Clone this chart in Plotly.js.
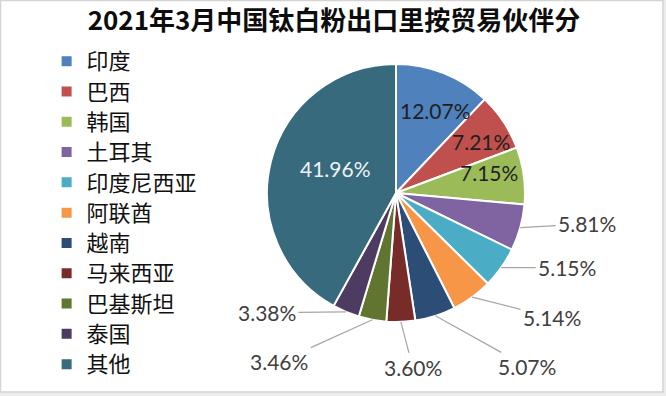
<!DOCTYPE html>
<html>
<head>
<meta charset="utf-8">
<script src="https://cdn.plot.ly/plotly-3.0.1.min.js"></script>
<style>html,body{margin:0;padding:0;background:#fff;}#chart{width:666px;height:396px;}</style>
</head>
<body>
<div id="chart"></div>
<script>
// ---- data ----
const categories = ['印度','巴西','韩国','土耳其','印度尼西亚','阿联酋','越南','马来西亚','巴基斯坦','泰国','其他'];
const shares = [12.07, 7.21, 7.15, 5.81, 5.15, 5.14, 5.07, 3.60, 3.46, 3.38, 41.96];
const titleText = '2021年3月中国钛白粉出口里按贸易伙伴分';

// ---- style ----
const sliceColors = ['#4F81BD','#C0504D','#9BBB59','#8064A2','#4BACC6','#F79646','#2C4D75','#772C2A','#5F7530','#4D3B62','#376A7C'];
const labelInside = [true,true,true,false,false,false,false,false,false,false,true];
const labelOffsets = [[-8,37],[-22,20],[-35,-3],[67,-4],[66,0],[80,20],[92,51],[12,46],[-93,42],[-79,1],[64,8]];
const labelColors = ['#1f1f1f','#1f1f1f','#1f1f1f','#404040','#404040','#404040','#404040','#404040','#404040','#404040','#eef3f6'];

const W = 666, H = 396;
const domX = [267/W, 525/W];
const domY = [(H-322)/H, (H-64)/H];

const cx = (domX[0]+domX[1])/2*W;
const cy = H - (domY[0]+domY[1])/2*H;
const r = Math.min((domX[1]-domX[0])*W, (domY[1]-domY[0])*H)/2;

const total = shares.reduce((a,b)=>a+b,0);
let cum = 0;
const annotations = [];
shares.forEach((v,i)=>{
  const mid = (cum + v/2)/total*2*Math.PI; cum += v;
  const px = cx + r*Math.sin(mid);
  const py = cy - r*Math.cos(mid);
  const a = {
    x: px/W, y: 1 - py/H, xref:'paper', yref:'paper',
    xanchor: 'center', yanchor: 'middle',
    text: v.toFixed(2) + '%',
    font: {family:'Lato, "Open Sans", sans-serif', size:21, color: labelColors[i]}
  };
  if (labelInside[i]) {
    a.showarrow = false; a.xshift = labelOffsets[i][0]; a.yshift = -labelOffsets[i][1];
  } else {
    a.showarrow = true; a.ax = labelOffsets[i][0]; a.ay = labelOffsets[i][1];
    a.arrowhead = 0; a.arrowwidth = 1.2; a.arrowcolor = '#a6a6a6'; a.standoff = 0; a.startstandoff = 1;
  }
  annotations.push(a);
});

const trace = {
  type: 'pie',
  labels: categories.map(c => '<span style="font-size:22px">' + c + '</span>'),
  values: shares,
  sort: false,
  direction: 'clockwise',
  rotation: 0,
  textinfo: 'none',
  hoverinfo: 'none',
  domain: {x: domX, y: domY},
  marker: {colors: sliceColors, line: {color: '#ffffff', width: 2}}
};

const layout = {
  width: W, height: H,
  margin: {l:0, r:0, t:0, b:0},
  paper_bgcolor: '#ececec',
  showlegend: true,
  title: {
    text: '<b>' + titleText + '</b>',
    x: 334/W, xanchor: 'center', y: 1 - 21/H, yanchor: 'middle', yref: 'container', xref: 'container',
    font: {family: '"Noto Sans CJK SC", sans-serif', size: 26, color: '#0d0d0d'}
  },
  legend: {
    x: 0.07, xanchor: 'left', y: 1 - 41/H, yanchor: 'top',
    font: {family: '"Noto Sans CJK SC", sans-serif', size: 21, color: '#111111'},
    bgcolor: 'rgba(0,0,0,0)', itemclick: false, itemdoubleclick: false
  },
  shapes: [{
    type: 'rect', xref: 'paper', yref: 'paper', layer: 'below',
    x0: 0.5/W, x1: 663/W, y0: 1 - 392/H, y1: 1 - 0.5/H,
    fillcolor: '#ffffff', line: {color: '#d4d4d4', width: 1.5}
  }],
  annotations: annotations
};

Plotly.newPlot('chart', [trace], layout, {displayModeBar: false, staticPlot: true});
</script>
</body>
</html>
